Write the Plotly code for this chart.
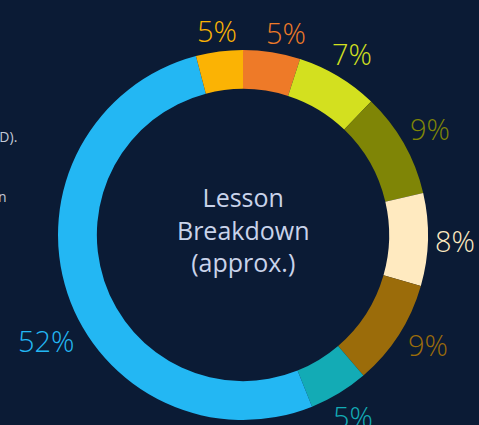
import math
import plotly.graph_objects as go

# ---- data, clockwise from 12 o'clock ----
segments = ["Intro", "Warm-up", "Review", "Discussion", "Practice", "Check-in", "Main activity", "Wrap-up"]
values = [5.0, 7.2, 9.2, 8.1, 9.3, 5.2, 52.1, 4.1]
label_text = ["5%", "7%", "9%", "8%", "9%", "5%", "52%", "5%"]
colors = ["#ee7a28", "#d3e01f", "#7f8506", "#ffeac0", "#9b6c0a", "#13abb5", "#23b7f3", "#fbb304"]
center_title = "Lesson<br>Breakdown<br>(approx.)"
side_notes = ["Includes learners with attention differences (e.g., ADHD).",
              "Timings are estimates and vary from lesson to lesson"]

# ---- styling / layout geometry ----
W, H = 479, 425
BG = "#0b1b35"
FONT = "Open Sans"
cx, cy, R = 243, 235, 185          # pie centre / radius in px
HOLE = 0.79
LABEL_FS = 29
label_angle_nudge_deg = [3, 0, 0, 0, -2, 0, -10, 0]   # small label placement tweaks

fig = go.Figure(go.Pie(
    labels=segments,
    values=values,
    hole=HOLE,
    sort=False,
    direction="clockwise",
    rotation=0,
    marker=dict(colors=colors, line=dict(width=0)),
    textinfo="none",
    hoverinfo="label+percent",
    showlegend=False,
    domain=dict(x=[(cx - R) / W, (cx + R) / W],
                y=[(H - cy - R) / H, (H - cy + R) / H]),
))

annotations = []
total = sum(values)
cum = 0.0
for v, txt, col, nudge in zip(values, label_text, colors, label_angle_nudge_deg):
    mid = (cum + v / 2) / total * 2 * math.pi + math.radians(nudge)
    cum += v
    s, c = math.sin(mid), math.cos(mid)
    half_w = len(txt) * 0.33 * LABEL_FS
    half_h = 0.37 * LABEL_FS
    dist = R + 8 + abs(s) * half_w + abs(c) * half_h
    px = cx + dist * s
    py = cy - dist * c
    annotations.append(dict(
        x=px / W, y=1 - py / H, xref="paper", yref="paper",
        text=txt, showarrow=False, xanchor="center", yanchor="middle",
        font=dict(family=FONT, size=LABEL_FS, color=col, weight=300),
    ))

annotations.append(dict(
    x=cx / W, y=1 - 229 / H, xref="paper", yref="paper",
    text=center_title, showarrow=False, xanchor="center", yanchor="middle",
    font=dict(family=FONT, size=25, color="#c9d3ea"),
))

for note, right_px, mid_py in zip(side_notes, [19, 9], [137, 196]):
    annotations.append(dict(
        x=right_px / W, y=1 - mid_py / H, xref="paper", yref="paper",
        text=note, showarrow=False, xanchor="right", yanchor="middle",
        font=dict(family=FONT, size=14, color="#c3cad8"),
    ))

fig.update_layout(
    width=W, height=H,
    margin=dict(l=0, r=0, t=0, b=0),
    paper_bgcolor=BG, plot_bgcolor=BG,
    annotations=annotations,
)

fig.write_html("out.html", config={"displayModeBar": False})

# remove the default page margin so the figure fills the window
with open("out.html", "r", encoding="utf-8") as f:
    html = f.read()
html = html.replace("<head>", "<head><style>html,body{margin:0;padding:0;overflow:hidden;background:%s;}</style>" % BG, 1)
with open("out.html", "w", encoding="utf-8") as f:
    f.write(html)
